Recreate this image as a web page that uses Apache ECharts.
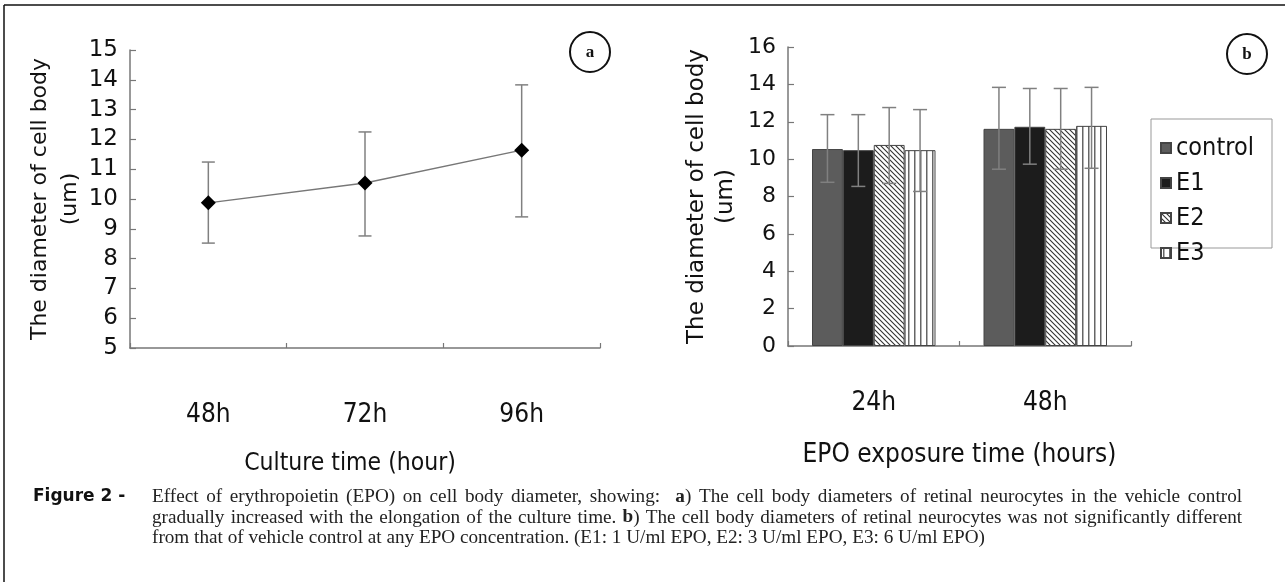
<!DOCTYPE html>
<html><head><meta charset="utf-8">
<script src="https://cdn.jsdelivr.net/npm/echarts/dist/echarts.min.js"></script>
<style>html,body{margin:0;padding:0;background:#fff}#c{width:1285px;height:582px}</style>
</head><body><div id="c"></div>
<script>
// ---- Panel a data ----
const cultureTimes = ['48h', '72h', '96h'];
const diameterMean = [9.87, 10.54, 11.64];
const diameterLow  = [8.52, 8.76, 9.40];
const diameterHigh = [11.24, 12.25, 13.83];
const ticksA = { min: 5, max: 15, interval: 1 };

// ---- Panel b data ----
const exposureTimes = ['24h', '48h'];
const groups = ['control', 'E1', 'E2', 'E3'];
const controlMean = [10.54, 11.62];
const controlLow  = [8.76, 9.46];
const controlHigh = [12.38, 13.84];
const e1Mean = [10.48, 11.73];
const e1Low  = [8.54, 9.73];
const e1High = [12.38, 13.78];
const e2Mean = [10.76, 11.62];
const e2Low  = [8.70, 9.46];
const e2High = [12.76, 13.78];
const e3Mean = [10.48, 11.78];
const e3Low  = [8.27, 9.51];
const e3High = [12.65, 13.84];
const ticksB = { min: 0, max: 16, interval: 2 };

const captionLines = [
  'Effect of erythropoietin (EPO) on cell body diameter, showing:  {b|a}) The cell body diameters of retinal neurocytes in the vehicle control',
  'gradually increased with the elongation of the culture time. {b|b}) The cell body diameters of retinal neurocytes was not significantly different',
  'from that of vehicle control at any EPO concentration. (E1: 1 U/ml EPO, E2: 3 U/ml EPO, E3: 6 U/ml EPO)'
];
const captionJustify = [true, true, false];

const NARROW = "'Liberation Sans Narrow','DejaVu Sans Condensed',sans-serif";
const SANS = "'DejaVu Sans',sans-serif";
const SERIF_NAME = "'Liberation Serif'";
const CAP_SIZE = 19.2;
const CAP_X = 152, CAP_RIGHT = 1241;

function pattern(kind) {
  const c = document.createElement('canvas');
  const g = c.getContext('2d');
  if (kind === 'diag') {
    c.width = 5; c.height = 5;
    g.fillStyle = '#fff'; g.fillRect(0, 0, 5, 5);
    g.strokeStyle = '#333'; g.lineWidth = 1.1;
    g.beginPath();
    g.moveTo(-1, -1); g.lineTo(6, 6);
    g.moveTo(-1, 4); g.lineTo(1, 6);
    g.moveTo(4, -1); g.lineTo(6, 1);
    g.stroke();
  } else {
    c.width = 6; c.height = 4;
    g.fillStyle = '#fff'; g.fillRect(0, 0, 6, 4);
    g.fillStyle = '#666'; g.fillRect(2, 0, 1.5, 4);
  }
  return { image: c, repeat: 'repeat' };
}

// justify caption lines by widening the gaps between words
const measureCtx = document.createElement('canvas').getContext('2d');
measureCtx.font = CAP_SIZE + 'px ' + SERIF_NAME + ',serif';
function captionText(line, justify) {
  const plain = line.replace(/\{b\|([^}]*)\}/g, '$1');
  const spaceW = measureCtx.measureText(' ').width;
  if (!justify) return { text: line, gapW: spaceW };
  const natural = measureCtx.measureText(plain).width;
  const gaps = (plain.match(/ /g) || []).length;
  const extra = Math.max(0, (CAP_RIGHT - CAP_X - natural) / gaps);
  return { text: line.replace(/ /g, '{g| }'), gapW: spaceW + extra };
}

const chart = echarts.init(document.getElementById('c'), null, { renderer: 'canvas' });

const ERR = { stroke: '#808080', lineWidth: 1.5 };
const CAT_GAP = 0.28;

function errLines(x, yTop, yBot, cap) {
  return [
    { type: 'line', shape: { x1: x, y1: yTop, x2: x, y2: yBot }, style: ERR },
    { type: 'line', shape: { x1: x - cap, y1: yTop, x2: x + cap, y2: yTop }, style: ERR },
    { type: 'line', shape: { x1: x - cap, y1: yBot, x2: x + cap, y2: yBot }, style: ERR }
  ];
}

function barErrSeries(idx, low, high) {
  return {
    type: 'custom', name: groups[idx] + ' error', xAxisIndex: 1, yAxisIndex: 1, z: 10,
    data: low.map((l, i) => [i, l, high[i]]),
    renderItem(params, api) {
      const cat = api.value(0);
      const top = api.coord([cat, api.value(2)]);
      const bot = api.coord([cat, api.value(1)]);
      const band = api.size([1, 0])[0];
      const bw = band * (1 - CAT_GAP) / groups.length;
      const x = top[0] + (idx - (groups.length - 1) / 2) * bw;
      return { type: 'group', children: errLines(x, top[1], bot[1], 7) };
    }
  };
}

const axisLine = { show: true, lineStyle: { color: '#777', width: 1.5 } };
const axisTick = { show: true, inside: true, length: 6, lineStyle: { color: '#777', width: 1.2 } };

const barColors = ['#5c5c5c', '#1c1c1c', pattern('diag'), pattern('vert')];
const barMeans = [controlMean, e1Mean, e2Mean, e3Mean];
const barLows = [controlLow, e1Low, e2Low, e3Low];
const barHighs = [controlHigh, e1High, e2High, e3High];

const option = {
  animation: false,
  backgroundColor: '#fff',
  grid: [
    { left: 130, top: 50, width: 470, height: 298 },
    { left: 788, top: 47, width: 343, height: 299 }
  ],
  xAxis: [
    {
      gridIndex: 0, type: 'category', data: cultureTimes, boundaryGap: true,
      axisLine, axisTick: Object.assign({}, axisTick, { length: 5 }),
      axisLabel: { fontFamily: NARROW, fontSize: 26, color: '#111', margin: 54 },
      name: 'Culture time (hour)', nameLocation: 'middle', nameGap: 103,
      nameTextStyle: { fontFamily: NARROW, fontSize: 24.5, color: '#111', padding: [0, 30, 0, 0] }
    },
    {
      gridIndex: 1, type: 'category', data: exposureTimes, boundaryGap: true,
      axisLine, axisTick: Object.assign({}, axisTick, { length: 5 }),
      axisLabel: { fontFamily: NARROW, fontSize: 26, color: '#111', margin: 44 },
      name: 'EPO exposure time (hours)', nameLocation: 'middle', nameGap: 96,
      nameTextStyle: { fontFamily: NARROW, fontSize: 26, color: '#111' }
    }
  ],
  yAxis: [
    {
      gridIndex: 0, type: 'value', min: ticksA.min, max: ticksA.max, interval: ticksA.interval,
      splitLine: { show: false }, axisLine, axisTick,
      axisLabel: { fontFamily: SANS, fontSize: 23, color: '#111', margin: 12 },
      name: 'The diameter of cell body\n(um)', nameLocation: 'middle', nameGap: 44, nameRotate: 90,
      nameTextStyle: { fontFamily: SANS, fontSize: 22, color: '#111', lineHeight: 30, align: 'center' }
    },
    {
      gridIndex: 1, type: 'value', min: ticksB.min, max: ticksB.max, interval: ticksB.interval,
      splitLine: { show: false }, axisLine, axisTick,
      axisLabel: { fontFamily: SANS, fontSize: 22, color: '#111', margin: 12 },
      name: 'The diameter of cell body\n(um)', nameLocation: 'middle', nameGap: 47, nameRotate: 90,
      nameTextStyle: { fontFamily: SANS, fontSize: 23, color: '#111', lineHeight: 29, align: 'center' }
    }
  ],
  legend: {
    data: groups, orient: 'vertical', left: 1155, top: 130, itemWidth: 10, itemHeight: 10, itemGap: 9,
    icon: 'rect', selectedMode: false,
    textStyle: { fontFamily: NARROW, fontSize: 25, lineHeight: 26, color: '#111', padding: [0, 0, 0, 0] }
  },
  series: [
    {
      type: 'line', name: 'diameter', xAxisIndex: 0, yAxisIndex: 0, data: diameterMean,
      symbol: 'diamond', symbolSize: 15, z: 5,
      itemStyle: { color: '#000' }, lineStyle: { color: '#777', width: 1.5 }
    },
    {
      type: 'custom', name: 'diameter error', xAxisIndex: 0, yAxisIndex: 0, z: 3,
      data: diameterLow.map((l, i) => [i, l, diameterHigh[i]]),
      renderItem(params, api) {
        const top = api.coord([api.value(0), api.value(2)]);
        const bot = api.coord([api.value(0), api.value(1)]);
        return { type: 'group', children: errLines(top[0], top[1], bot[1], 6.5) };
      }
    },
    ...groups.map((g, i) => ({
      type: 'bar', name: g, xAxisIndex: 1, yAxisIndex: 1, data: barMeans[i],
      barGap: '0%', barCategoryGap: (CAT_GAP * 100) + '%',
      itemStyle: { color: barColors[i], borderColor: '#444', borderWidth: 1 }
    })),
    ...groups.map((g, i) => barErrSeries(i, barLows[i], barHighs[i]))
  ],
  graphic: [
    { type: 'line', shape: { x1: 4, y1: 5, x2: 1285, y2: 5 }, style: { stroke: '#111', lineWidth: 1.5 } },
    { type: 'line', shape: { x1: 4, y1: 5, x2: 4, y2: 582 }, style: { stroke: '#111', lineWidth: 1.5 } },
    { type: 'rect', shape: { x: 1151, y: 119, width: 121, height: 129 }, style: { fill: 'none', stroke: '#999', lineWidth: 1 }, z: 0 },
    { type: 'circle', shape: { cx: 590, cy: 52, r: 20 }, style: { fill: '#fff', stroke: '#111', lineWidth: 2 } },
    { type: 'text', x: 590, y: 53, style: { text: 'a', font: "bold 17px 'Liberation Serif',serif", fill: '#111', textAlign: 'center', textVerticalAlign: 'middle' } },
    { type: 'circle', shape: { cx: 1247, cy: 54, r: 20 }, style: { fill: '#fff', stroke: '#111', lineWidth: 2 } },
    { type: 'text', x: 1247, y: 55, style: { text: 'b', font: "bold 17px 'Liberation Serif',serif", fill: '#111', textAlign: 'center', textVerticalAlign: 'middle' } },
    { type: 'text', x: 33, y: 497, style: { text: 'Figure 2 -', font: "bold 17px 'DejaVu Sans',sans-serif", fill: '#111', textVerticalAlign: 'middle' } },
    ...captionLines.map((t, i) => {
      const c = captionText(t, captionJustify[i]);
      return {
        type: 'text', x: CAP_X, y: 497 + i * 20.5,
        style: {
          text: c.text, fontFamily: SERIF_NAME + ',serif', fontSize: CAP_SIZE, fill: '#222', textVerticalAlign: 'middle',
          rich: {
            b: { fontFamily: SERIF_NAME + ',serif', fontSize: CAP_SIZE, fontWeight: 'bold', fill: '#222' },
            g: { fontFamily: SERIF_NAME + ',serif', fontSize: CAP_SIZE, width: c.gapW }
          }
        }
      };
    })
  ]
};
chart.setOption(option);
</script>
</body></html>
